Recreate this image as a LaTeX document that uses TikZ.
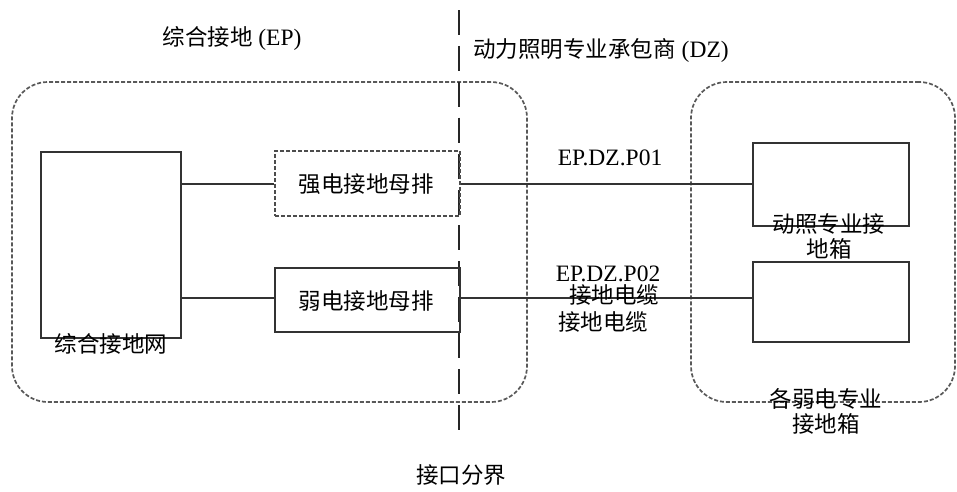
\documentclass[tikz,border=0pt]{standalone}
\usepackage{fontspec}
\setmainfont{Liberation Serif}
\newfontfamily\cjk{Noto Sans CJK SC}
\begin{document}
\begin{tikzpicture}[x=1pt,y=-1pt,
  region/.style={draw=black!65, line width=1.7pt, dash pattern=on 4pt off 2pt, rounded corners=36pt, inner sep=0pt},
  solidbox/.style={draw=black!80, line width=2pt, inner sep=0pt},
  dashbox/.style={draw=black!70, line width=1.8pt, dash pattern=on 4pt off 2pt, inner sep=0pt},
  wire/.style={draw=black!80, line width=2pt},
  divider/.style={draw=black!85, line width=2.8pt, dash pattern=on 25pt off 10.9pt},
  cn/.style={font=\cjk\fontsize{22.5}{25}\selectfont, inner sep=0pt, align=center},
  lt/.style={font=\fontsize{23.5}{27}\selectfont, inner sep=0pt}]
\useasboundingbox (0,0) rectangle (957,491);
\fill[white] (0,0) rectangle (957,491);
% regions
\node[region, minimum width=515pt, minimum height=320pt] (epzone) at (269.5,242) {};
\node[region, minimum width=264pt, minimum height=320pt] (dzzone) at (823,242) {};
% divider
\coordinate (divtop) at (459,10);
\coordinate (divbot) at (459,430);
\draw[divider] (divtop) -- (divbot);
% boxes
\node[solidbox, minimum width=140pt, minimum height=186pt] (gnet) at (111,245) {};
\node[dashbox, minimum width=185pt, minimum height=65pt] (strong) at (367.5,183.5) {};
\node[solidbox, minimum width=185pt, minimum height=64pt] (weak) at (367.5,300) {};
\node[solidbox, minimum width=156pt, minimum height=83pt] (pbox) at (831,184.5) {};
\node[solidbox, minimum width=156pt, minimum height=80pt] (wbox) at (831,302) {};
% box texts
\node[cn] (strongtxt) at (366,184) {强电接地母排};
\node[cn] (weaktxt) at (366,301) {弱电接地母排};
\node[cn] (gnettxt) at (111,344) {综合接地网};
\node[cn] (pboxtxt) at (829,236) {动照专业接\\地箱};
\node[cn] (wboxtxt) at (826,411) {各弱电专业\\接地箱};
% wires
\draw[wire] (strong.west -| gnet.east) -- (strong.west);
\draw[wire] ([yshift=2pt]weak.west -| gnet.east) -- ([yshift=2pt]weak.west);
\draw[wire] (strong.east) -- (strong.east -| pbox.west);
\draw[wire] ([yshift=2pt]weak.east) -- ([yshift=2pt]weak.east -| wbox.west);
% labels
\node[inner sep=0pt, font=\fontsize{23.5}{27}\selectfont] (eplabel) at (232,38) {{\cjk\fontsize{22.5}{25}\selectfont 综合接地} (EP)};
\node[inner sep=0pt, font=\fontsize{23.5}{27}\selectfont] (dzlabel) at (601,50) {{\cjk\fontsize{22.5}{25}\selectfont 动力照明专业承包商} (DZ)};
\node[lt] (p01) at (610,158) {EP.DZ.P01};
\node[lt] (p02) at (608,274) {EP.DZ.P02};
\node[cn] (cable1) at (614,295) {接地电缆};
\node[cn] (cable2) at (603,322) {接地电缆};
\node[cn] (iface) at (461,475) {接口分界};
\end{tikzpicture}
\end{document}
